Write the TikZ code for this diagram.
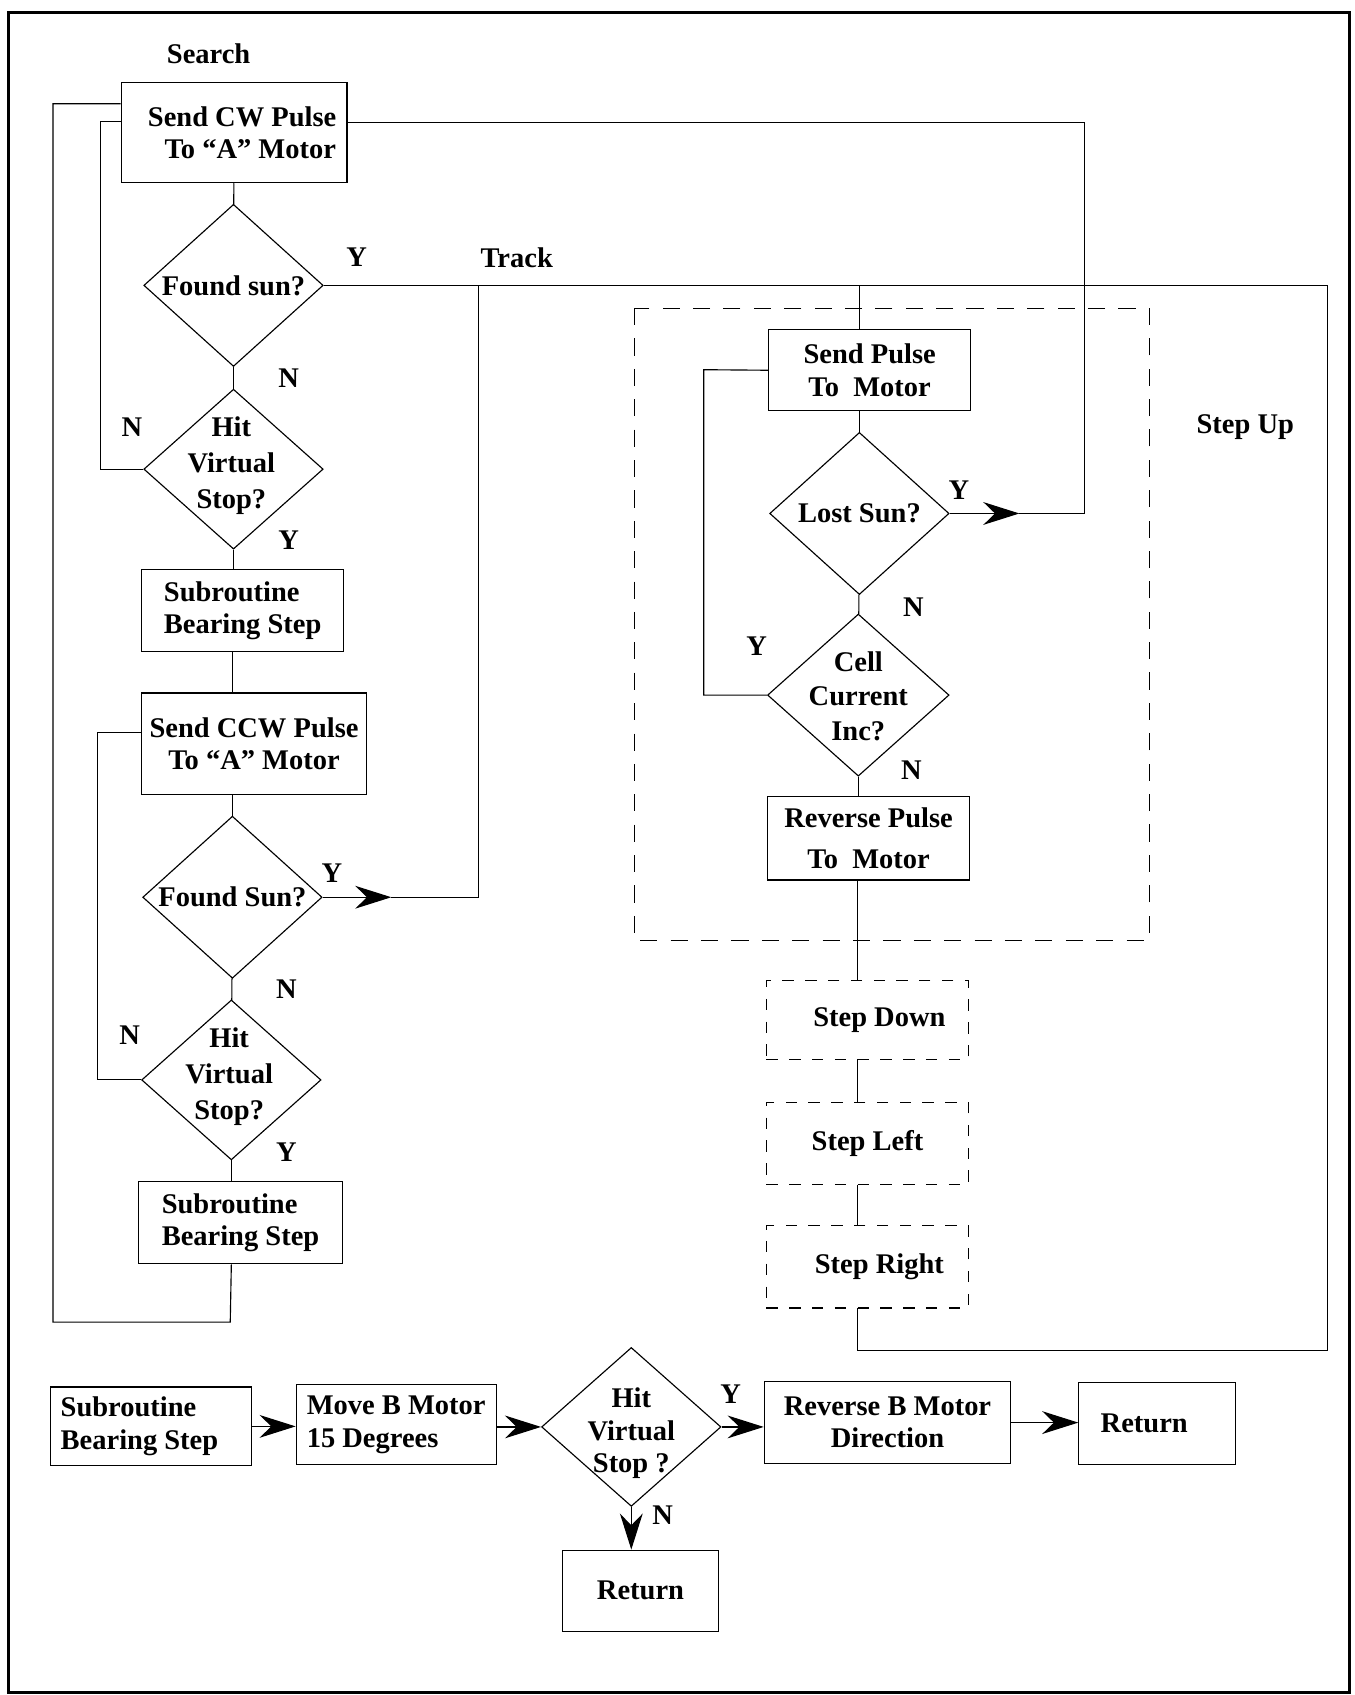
\documentclass[tikz,border=0pt]{standalone}
\usepackage{fontspec}
\setmainfont{Liberation Serif}
\usetikzlibrary{shapes.geometric,arrows.meta}
\tikzset{
  txt/.style={font=\bfseries\fontsize{15}{17}\selectfont, align=center, inner sep=0pt},
  box/.style={draw, line width=0.6pt, minimum width=3.74cm, minimum height=1.52cm, txt},
  dbox/.style={box, dash pattern=on 6pt off 6pt},
  dia/.style={draw, diamond, line width=0.6pt, inner sep=0pt, minimum width=3.32cm, minimum height=3cm},
  link/.style={line width=0.6pt},
  arr/.style={link, -{Stealth[length=19pt,width=12pt]}}
}
\begin{document}
\begin{tikzpicture}[x=0.02cm,y=-0.02cm]
  \useasboundingbox (0,0) rectangle (1253,1568);
  \draw[line width=1.6pt] (8,12) rectangle (1248,1566);

  % search part
  \node[txt] (search) at (193,50) {Search};
  \node[box, minimum width=4.18cm, minimum height=1.86cm] (cw) at (216.5,122.5) {\hspace*{0.3cm}Send CW Pulse\\ \hspace*{0.6cm}To ``A'' Motor};
  \node[dia] (found1) at (216,264) {};
  \node[txt] (found1t) at (found1) {Found sun?};
  \node[dia, minimum height=2.96cm] (stop1) at (216,434) {};
  \node[txt, font=\bfseries\fontsize{15}{19}\selectfont] (stop1t) at (214,431) {Hit\\ Virtual\\ Stop?};
  \node[box, align=left] (sub1) at (224.5,565) {Subroutine\\ Bearing Step};
  \node[box, minimum width=4.16cm, minimum height=1.88cm] (ccw) at (235,688) {Send CCW Pulse\\ To ``A'' Motor};
  \node[dia] (found2) at (215,830) {};
  \node[txt] (found2t) at (found2) {Found Sun?};
  \node[dia, minimum height=2.96cm] (stop2) at (214,999) {};
  \node[txt, font=\bfseries\fontsize{15}{19}\selectfont] (stop2t) at (212,996) {Hit\\ Virtual\\ Stop?};
  \node[box, minimum width=3.78cm, align=left] (sub2) at (222.5,1131) {Subroutine\\ Bearing Step};

  \draw[link] (cw) -- (found1);
  \draw[link] (found1) -- (stop1);
  \draw[link] (stop1.south) -- (stop1.south |- sub1.north);
  \draw[link] (215,603) -- (215,641);
  \draw[link] (ccw.south -| found2) -- (found2.north);
  \draw[link] (found2) -- (stop2);
  \draw[link] (stop2.south) -- (stop2.south |- sub2.north);
  \draw[link] (stop2.south |- sub2.south) -- (213,1223) -| (49,96) -- (cw.west |- 0,96);
  \draw[link] (stop1.west) -| (93,112) -- (cw.west |- 0,112);
  \draw[link] (stop2.west) -| (90,678) -- (ccw.west |- 0,678);

  \node[txt] (y1) at (330,238) {Y};
  \node[txt] (n1) at (267,350) {N};
  \node[txt] (n2) at (122,395) {N};
  \node[txt] (y2) at (267,500) {Y};
  \node[txt] (y3) at (307,808) {Y};
  \node[txt] (n3) at (265,915) {N};
  \node[txt] (n4) at (120,958) {N};
  \node[txt] (y4) at (265,1066) {Y};

  % track part
  \node[txt] (track) at (478,238) {Track};
  \node[txt] (stepup) at (1152,395) {Step Up};
  \draw[link, dash pattern=on 9pt off 7pt] (587,285) rectangle (1063,870);
  \node[box, minimum height=1.5cm] (pulse) at (804.5,342.5) {Send Pulse\\ To~ Motor};
  \node[dia] (lost) at (795,475) {};
  \node[txt] (lostt) at (lost) {Lost Sun?};
  \node[dia, minimum width=3.36cm] (cell) at (794,643) {};
  \node[txt, font=\bfseries\fontsize{15}{18}\selectfont] (cellt) at (794,644) {Cell\\ Current\\ Inc?};
  \node[box, minimum height=1.54cm, font=\bfseries\fontsize{15}{22}\selectfont] (rev) at (803.5,775.5) {Reverse Pulse\\ To~ Motor};
  \node[dbox, minimum height=1.46cm] (down) at (802.5,943.5) {\hspace*{0.44cm}Step Down};
  \node[dbox] (left) at (802.5,1058) {Step Left};
  \node[dbox] (right) at (802.5,1172) {\hspace*{0.44cm}Step Right};

  \draw[link] (found1.east) -- (1228,264) |- (793,1249) -- (793,1210);
  \draw[link] (795,264) -- (795,305);
  \draw[link] (lost.north) -- (lost.north |- pulse.south);
  \draw[link] (lost) -- (cell);
  \draw[link] (cell.south) -- (cell.south |- rev.north);
  \draw[link] (793,814) -- (793,907);
  \draw[link] (793,980) -- (793,1020);
  \draw[link] (793,1096) -- (793,1134);
  \draw[link] (cell.west) -| (651,342) -- (pulse.west);
  \draw[arr] (lost.east) -- (943,475);
  \draw[link] (943,475) -| (1003,113) -- (cw.east |- 0,113);
  \draw[arr] (found2.east) -- (362,830);
  \draw[link] (362,830) -| (443,264);

  \node[txt] (y5) at (887,453) {Y};
  \node[txt] (n5) at (845,562) {N};
  \node[txt] (y6) at (700,598) {Y};
  \node[txt] (n6) at (843,712) {N};

  % bearing step subroutine
  \node[box, minimum width=3.72cm, minimum height=1.46cm, align=left] (bsub) at (140,1319.5) {Subroutine\\ Bearing Step\hspace*{0.44cm}};
  \node[box, minimum width=3.7cm, minimum height=1.48cm, align=left] (bmove) at (366.5,1318) {Move B Motor\\ 15 Degrees};
  \node[dia, minimum height=2.94cm] (bstop) at (584,1320) {};
  \node[txt] (bstopt) at (584,1326) {Hit\\ Virtual\\ Stop ?};
  \node[box, minimum width=4.56cm] (brev) at (821,1316) {Reverse B Motor\\ Direction};
  \node[box, minimum width=2.9cm] (bret1) at (1070.5,1317) {Return\hspace*{0.48cm}};
  \node[box, minimum width=2.9cm, minimum height=1.5cm] (bret2) at (592.5,1471.5) {Return};

  \draw[arr] (bsub.east) -- (bsub.east -| bmove.west);
  \draw[arr] (bmove.east |- bstop) -- (bstop.west);
  \draw[arr] (bstop.east) -- (bstop.east -| brev.west);
  \draw[arr] (brev.east) -- (brev.east -| bret1.west);
  \draw[arr] (bstop.south) -- (bstop.south |- bret2.north);

  \node[txt] (y7) at (676,1290) {Y};
  \node[txt] (n7) at (613,1402) {N};
\end{tikzpicture}
\end{document}
